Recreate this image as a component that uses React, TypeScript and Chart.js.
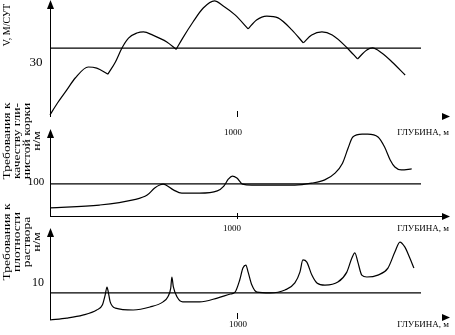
import React, { useEffect, useRef } from "react";
import { Chart, registerables } from "chart.js";

Chart.register(...registerables);

// ---- data (depth in m) ----
const depth1 = [0, 40, 90, 135, 205, 250, 310, 350, 385, 420, 465, 500, 550, 625, 675, 710, 765, 820, 880, 925, 990, 1060, 1105, 1160, 1220, 1295, 1355, 1400, 1455, 1510, 1590, 1645, 1695, 1725, 1775, 1830, 1900];
const speed = [0.9, 6.1, 11.8, 17.0, 21.8, 21.3, 18.7, 24.0, 30.1, 34.4, 36.6, 37.1, 35.7, 32.7, 29.5, 34.4, 41.4, 47.5, 50.6, 48.5, 44.5, 38.4, 42.3, 44.0, 43.2, 37.9, 32.3, 35.7, 37.1, 35.7, 30.1, 25.3, 29.2, 30.1, 27.9, 24.0, 18.3];

const depth2 = [0, 265, 445, 520, 560, 590, 605, 660, 705, 800, 895, 930, 955, 975, 1000, 1030, 1080, 1310, 1400, 1470, 1525, 1565, 1595, 1620, 1670, 1700, 1755, 1790, 1820, 1845, 1880, 1935];
const cakeReq = [25, 34, 50, 65, 87, 97, 99, 81, 71, 71, 78, 93, 115, 124, 118, 99, 96, 96, 102, 112, 133, 164, 211, 245, 254, 254, 245, 214, 174, 152, 143, 146];

const depth3 = [0, 90, 175, 250, 280, 295, 305, 312, 322, 350, 445, 535, 605, 630, 646, 652, 660, 680, 710, 800, 895, 965, 990, 1015, 1032, 1048, 1060, 1080, 1107, 1177, 1257, 1310, 1337, 1353, 1374, 1401, 1428, 1471, 1540, 1588, 1615, 1631, 1647, 1668, 1695, 1754, 1808, 1845, 1872, 1898, 1925, 1947];
const densReq = [0, 0.7, 1.8, 3.7, 5.5, 9.2, 12.2, 10.3, 6.7, 4.4, 3.7, 4.8, 6.7, 8.5, 11.8, 15.9, 12.2, 8.5, 6.7, 6.7, 8.1, 9.6, 10.3, 14.8, 19.2, 20.3, 17.7, 12.9, 10.3, 10.0, 11.1, 13.7, 17.7, 22.2, 21.4, 16.6, 13.7, 12.9, 14.0, 17.7, 22.9, 24.8, 21.4, 16.6, 15.9, 16.6, 19.2, 25.1, 28.8, 27.0, 22.9, 19.2];

const refValues = [30, 100, 10];
const refDepth = [0, 1985];
const tickDepth = 1000;
const tickLabel = "1000";
const axisTitle = "ГЛУБИНА, м";
const yTitles = [
  ["V, М/СУТ"],
  ["Требования к", "качеству гли-", "нистой корки", "н/м"],
  ["Требования к", "плотности", "раствора", "н/м"],
];

const W = 455;
const H = 335;
const FONT = '"Liberation Serif", "DejaVu Serif", serif';

type Panel = {
  depth: number[];
  values: number[];
  ref: number;
  yMax: number;
  top: number;
  bottom: number;
  cusps: boolean;
  showXLine: boolean;
  axisOffset: number;
  tickTop: number;
  tickBottom: number;
  refLabelDy: number;
  refLabelX: number;
  refFont: number;
  title: string[];
  titleY: number;
  titleStretch: number;
  depthLabelY: number;
  depthLabelX: number;
};

const panels: Panel[] = [
  { depth: depth1, values: speed, ref: refValues[0], yMax: 51, top: 0, bottom: 117, cusps: true, showXLine: false, axisOffset: -1, tickTop: -5, tickBottom: 1, refLabelDy: 14, refLabelX: 36, refFont: 13, title: yTitles[0], titleY: 25, titleStretch: 1, depthLabelY: 133, depthLabelX: 233 },
  { depth: depth2, values: cakeReq, ref: refValues[1], yMax: 270, top: 129, bottom: 216, cusps: false, showXLine: true, axisOffset: 0, tickTop: -3, tickBottom: 3, refLabelDy: -2, refLabelX: 36, refFont: 11, title: yTitles[1], titleY: 141, titleStretch: 1.35, depthLabelY: 229, depthLabelX: 232 },
  { depth: depth3, values: densReq, ref: refValues[2], yMax: 34, top: 228, bottom: 320, cusps: false, showXLine: false, axisOffset: -3, tickTop: -4, tickBottom: 2, refLabelDy: -10, refLabelX: 38, refFont: 12, title: yTitles[2], titleY: 242, titleStretch: 1.35, depthLabelY: 325, depthLabelX: 238 },
];

// split a series into arcs at its local minima (sharp cusps in the picture)
function splitAtCusps(depth: number[], values: number[], cusps: boolean) {
  const pts = depth.map((d, i) => ({ x: d, y: values[i] }));
  if (!cusps) return [pts];
  const parts: { x: number; y: number }[][] = [];
  let cur: { x: number; y: number }[] = [];
  pts.forEach((pt, i) => {
    cur.push(pt);
    const isMin = i > 0 && i < pts.length - 1 && values[i] < values[i - 1] && values[i] < values[i + 1];
    if (isMin) {
      parts.push(cur);
      cur = [pt];
    }
  });
  parts.push(cur);
  return parts;
}

function makeDecor(p: Panel) {
  return {
    id: "decor",
    afterDraw(chart: any) {
      const ctx = chart.ctx as CanvasRenderingContext2D;
      const { left, right, top, bottom } = chart.chartArea;
      const xs = chart.scales.x;
      const ys = chart.scales.y;
      const axisY = bottom + p.axisOffset;
      ctx.save();
      ctx.strokeStyle = "#000";
      ctx.fillStyle = "#000";
      ctx.lineWidth = 1;
      ctx.beginPath();
      ctx.moveTo(left + 0.5, top + 6);
      ctx.lineTo(left + 0.5, bottom);
      ctx.stroke();
      ctx.beginPath();
      ctx.moveTo(left + 0.5, top);
      ctx.lineTo(left - 3, top + 9);
      ctx.lineTo(left + 4, top + 9);
      ctx.closePath();
      ctx.fill();
      if (p.showXLine) {
        ctx.beginPath();
        ctx.moveTo(left, axisY + 0.5);
        ctx.lineTo(right - 6, axisY + 0.5);
        ctx.stroke();
      }
      ctx.beginPath();
      ctx.moveTo(right, axisY + 0.5);
      ctx.lineTo(right - 8, axisY - 3);
      ctx.lineTo(right - 8, axisY + 4);
      ctx.closePath();
      ctx.fill();
      const tx = Math.round(xs.getPixelForValue(tickDepth)) + 0.5;
      ctx.beginPath();
      ctx.moveTo(tx, axisY + p.tickTop);
      ctx.lineTo(tx, axisY + p.tickBottom);
      ctx.stroke();
      ctx.font = `9px ${FONT}`;
      ctx.textAlign = "center";
      ctx.textBaseline = "middle";
      ctx.fillText(tickLabel, p.depthLabelX, p.depthLabelY);
      ctx.textAlign = "right";
      ctx.fillText(axisTitle, 449, p.depthLabelY);
      ctx.font = `${p.refFont}px ${FONT}`;
      ctx.textAlign = "center";
      ctx.fillText(String(p.ref), p.refLabelX, ys.getPixelForValue(p.ref) + p.refLabelDy);
      ctx.font = `10px ${FONT}`;
      p.title.forEach((line, i) => {
        ctx.save();
        ctx.translate(7 + i * 10, p.titleY);
        ctx.rotate(-Math.PI / 2);
        ctx.scale(p.titleStretch, 1);
        ctx.textAlign = "center";
        ctx.textBaseline = "middle";
        ctx.fillText(line, 0, 0);
        ctx.restore();
      });
      ctx.restore();
    },
  };
}

function PanelChart({ p }: { p: Panel }) {
  const ref = useRef<HTMLCanvasElement | null>(null);
  useEffect(() => {
    if (!ref.current) return;
    const arcs = splitAtCusps(p.depth, p.values, p.cusps).map((data) => ({
      data,
      borderColor: "#000",
      borderWidth: 1.2,
      pointRadius: 0,
      tension: 0.4,
      cubicInterpolationMode: "monotone" as const,
      fill: false,
      clip: false as any,
    }));
    const chart = new Chart(ref.current, {
      type: "line",
      data: {
        datasets: [
          ...arcs,
          {
            data: refDepth.map((d) => ({ x: d, y: p.ref })),
            borderColor: "#000",
            borderWidth: 1.2,
            pointRadius: 0,
            fill: false,
          },
        ],
      },
      options: {
        animation: false,
        responsive: false,
        devicePixelRatio: 1,
        layout: { padding: { left: 50, right: W - 450, top: p.top, bottom: H - p.bottom } },
        plugins: { legend: { display: false }, tooltip: { enabled: false } },
        events: [],
        scales: {
          x: { type: "linear", min: 0, max: 2140, display: false },
          y: { type: "linear", min: 0, max: p.yMax, display: false },
        },
      },
      plugins: [makeDecor(p)],
    });
    return () => chart.destroy();
  }, [p]);
  return (
    <canvas
      ref={ref}
      width={W}
      height={H}
      style={{ position: "absolute", left: 0, top: 0, width: W, height: H }}
    />
  );
}

export default function App() {
  return (
    <div style={{ position: "fixed", left: 0, top: 0, width: W, height: H, background: "#fff" }}>
      {panels.map((p, i) => (
        <PanelChart key={i} p={p} />
      ))}
    </div>
  );
}
